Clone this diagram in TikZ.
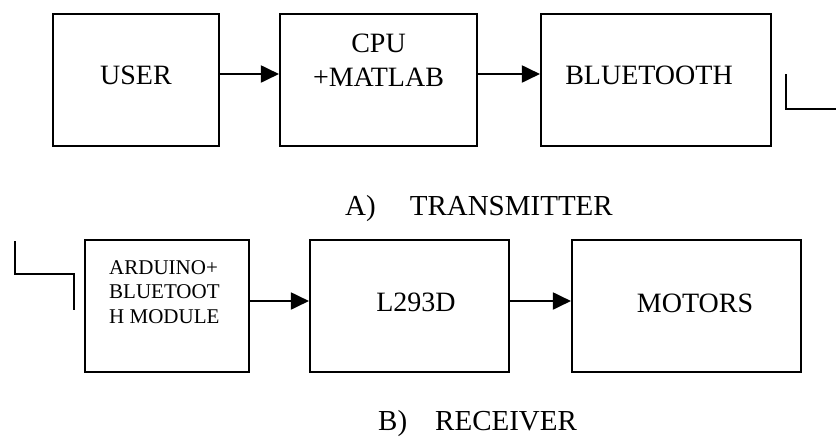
\documentclass[tikz,border=0pt]{standalone}
\usepackage{fontspec}
\setmainfont{Liberation Serif}
\usetikzlibrary{arrows.meta}
\tikzset{
  box/.style={draw, line width=2.1pt, inner sep=0pt, minimum height=132pt},
  lbl/.style={anchor=base, inner sep=0pt, font=\fontsize{28}{34}\selectfont},
  small/.style={anchor=base west, inner sep=0pt, align=left, font=\fontsize{21}{24.5}\selectfont},
  ttl/.style={anchor=base west, inner sep=0pt, font=\fontsize{29}{34}\selectfont},
  arr/.style={line width=1.9pt, -{Triangle[length=18pt,width=17pt]}},
  wire/.style={line width=2.1pt}
}
\begin{document}
\begin{tikzpicture}[x=1pt,y=-1pt]
\useasboundingbox (0,0) rectangle (836,437);
% transmitter boxes
\node[box, minimum width=166pt] (user) at (136,80) {};
\node[box, minimum width=197pt] (cpu) at (378.5,80) {};
\node[box, minimum width=230pt] (bt) at (656,80) {};
\node[lbl] (usert) at (136,84) {USER};
\node[lbl, align=center] (cput) at (378.5,86) {CPU\\+MATLAB};
\node[lbl] (btt) at (649,84) {BLUETOOTH};
% receiver boxes
\node[box, minimum width=164pt] (ard) at (167,306) {};
\node[box, minimum width=199pt] (l293) at (409.5,306) {};
\node[box, minimum width=229pt] (mot) at (686.5,306) {};
\node[small] (ardt) at (109,323) {ARDUINO+\\BLUETOOT\\H MODULE};
\node[lbl] (l293t) at (416,311) {L293D};
\node[lbl] (mott) at (695,312) {MOTORS};
% arrows
\draw[arr] ([yshift=6pt]user.east) -- ([yshift=6pt]cpu.west);
\draw[arr] ([yshift=6pt]cpu.east) -- ([yshift=6pt]bt.west);
\draw[arr] ([yshift=5pt]ard.east) -- ([yshift=5pt]l293.west);
\draw[arr] ([yshift=5pt]l293.east) -- ([yshift=5pt]mot.west);
% link wires
\coordinate (a1) at (786,74);
\coordinate (a2) at (836,109);
\draw[wire] (a1) |- (a2);
\coordinate (b1) at (15,241);
\coordinate (bm) at (74,274);
\coordinate (b2) at (74,310);
\draw[wire] (b1) |- (bm) -- (b2);
% titles
\node[ttl] (ta) at (345,215) {A)\hspace{34pt}TRANSMITTER};
\node[ttl] (tb) at (378,430) {B)\hspace{28pt}RECEIVER};
\end{tikzpicture}
\end{document}
